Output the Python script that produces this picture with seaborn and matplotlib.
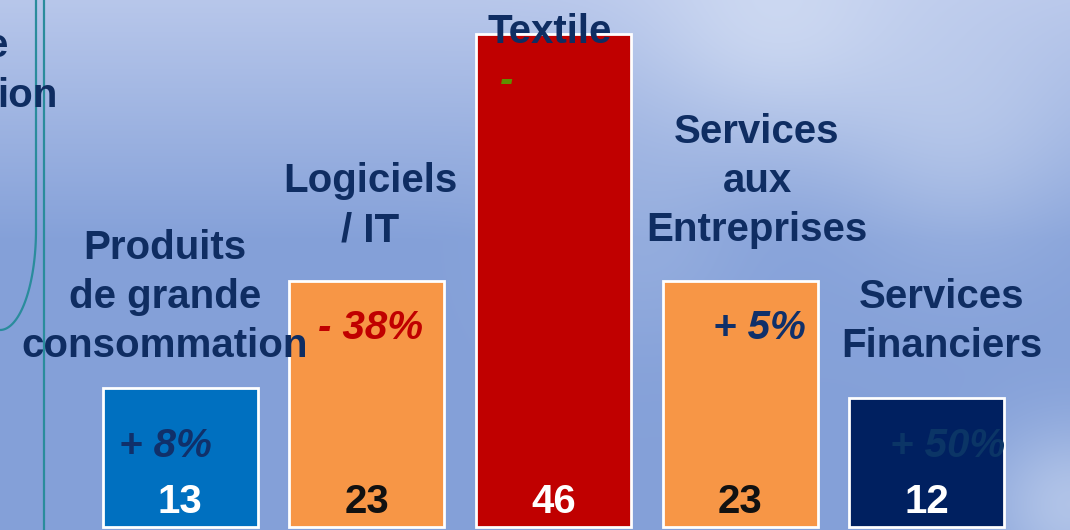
import numpy as np
import matplotlib
matplotlib.use("Agg")
import matplotlib.pyplot as plt
import seaborn as sns

# ==========================================
# DATA
# ==========================================
categories = ["Produits\nde grande\nconsommation", "Logiciels\n/ IT", "Textile",
              "Services\naux\nEntreprises", "Services\nFinanciers"]
values = [13, 23, 46, 23, 12]
changes = ["+ 8%", "- 38%", "-", "+ 5%", "+ 50%"]
bar_colors = ["#0070c0", "#f79646", "#c00000", "#f79646", "#002060"]
value_colors = ["white", "#111111", "white", "#111111", "white"]
change_colors = ["#10306a", "#c00000", "#5f8f00", "#10306a", "#0b3566"]

# layout (data units)
label_pos = [(-0.08, 21.5), (1.02, 30.0), (1.98, 46.2), (3.09, 32.3), (4.08, 19.2)]
change_pos = [(-0.08, 7.6), (1.02, 18.6), (1.75, 41.6), (3.1, 18.6), (4.11, 7.6)]
NAVY = "#0f2d62"

sns.set_style("white")
plt.rcParams['font.family'] = ['Liberation Sans', 'DejaVu Sans']

fig = plt.figure(figsize=(10.7, 5.3), dpi=100)
ax = fig.add_axes([0, 0, 1, 1])

xlim = (-0.964, 4.766)
ylim = (-0.28, 49.2)

# background: blue gradient with soft light patches
H, W = 265, 535
yy, xx = np.mgrid[0:H, 0:W]
yy = yy / H
xx = xx / W
top = np.array([0.72, 0.78, 0.92])
mid = np.array([0.52, 0.63, 0.85])
t = np.clip(yy / 0.45, 0, 1)[..., None]
bg = top * (1 - t) + mid * t
light = (0.45 * np.exp(-(((xx - 0.72) / 0.12) ** 2 + ((yy - 0.05) / 0.2) ** 2))
         + 0.3 * np.exp(-(((xx - 0.9) / 0.12) ** 2 + ((yy - 0.25) / 0.25) ** 2))
         + 0.45 * np.exp(-(((xx - 1.0) / 0.08) ** 2 + ((yy - 0.95) / 0.15) ** 2))
         + 0.15 * np.exp(-(((xx - 0.6) / 0.1) ** 2 + ((yy - 0.45) / 0.2) ** 2)))
light = np.clip(light, 0, 0.8)[..., None]
bg = bg * (1 - light) + np.array([0.90, 0.93, 0.98]) * light
ax.imshow(bg, extent=(xlim[0], xlim[1], ylim[0], ylim[1]), aspect='auto', zorder=0,
          origin='upper', interpolation='bicubic')

sns.barplot(x=categories, y=values, hue=categories, palette=bar_colors, legend=False,
            saturation=1, width=0.83, edgecolor='white', linewidth=2, ax=ax, zorder=2)

ax.set_xlim(*xlim)
ax.set_ylim(*ylim)
ax.axis('off')

for i, (lab, v) in enumerate(zip(categories, values)):
    ax.text(label_pos[i][0], label_pos[i][1], lab, ha='center', va='center',
            fontsize=29, fontweight='bold', color=NAVY, linespacing=1.37, zorder=4)
    ax.text(i, 2.3, str(v), ha='center', va='center', fontsize=29,
            fontweight='bold', color=value_colors[i], zorder=4)
    ax.text(change_pos[i][0], change_pos[i][1], changes[i], ha='center', va='center',
            fontsize=29, fontweight='bold', style='italic', color=change_colors[i], zorder=4)

# left rounded frame edge and clipped title text
teal = "#2a8c9c"
fig_w, fig_h = 1070, 530
yy1 = np.linspace(0, 230, 50)
arc = np.linspace(0, np.pi / 2, 40)
px = np.concatenate([np.full_like(yy1, 36), 36 - 36 * (1 - np.cos(arc))])
py = np.concatenate([yy1, 230 + 100 * np.sin(arc)])
fig.add_artist(plt.Line2D(px / fig_w, 1 - py / fig_h, color=teal, lw=1.6))
fig.add_artist(plt.Line2D([44 / fig_w, 44 / fig_w], [1, 0], color=teal, lw=1.6))
fig.text(8 / fig_w, 1 - 46 / fig_h, "e", ha='right', va='center', fontsize=29,
         fontweight='bold', color=NAVY)
fig.text(58 / fig_w, 1 - 96 / fig_h, "ion", ha='right', va='center', fontsize=29,
         fontweight='bold', color=NAVY)

fig.savefig("out.png", dpi=100)
